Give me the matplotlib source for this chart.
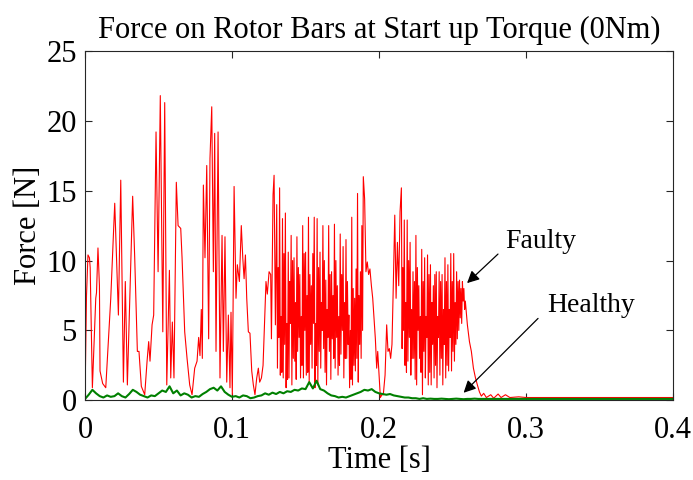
import numpy as np
import matplotlib.pyplot as plt

plt.rcParams['font.family'] = ['Liberation Serif', 'DejaVu Serif']

# faulty rotor bar force (time [s], force [N])
# part before the first dense burst
faulty_t1 = [0, 0.001, 0.002, 0.003, 0.0035, 0.005, 0.0073, 0.0078, 0.0088, 0.0098,
             0.0102, 0.012, 0.0141, 0.0175, 0.0202, 0.0227, 0.0243, 0.0261, 0.0274, 0.0288,
             0.0324, 0.0338, 0.0356, 0.0367, 0.0383,
             0.0406, 0.0422, 0.0433, 0.0442, 0.0456, 0.0467, 0.0483, 0.0497, 0.0512, 0.0529,
             0.0542, 0.0556, 0.0574, 0.0583, 0.0594, 0.0605, 0.0621, 0.0633, 0.0651, 0.066,
             0.0678, 0.0694, 0.0712, 0.0728, 0.0746, 0.0762, 0.0773, 0.0782, 0.0791, 0.0798,
             0.0805, 0.0816, 0.0828, 0.0841, 0.085, 0.0862, 0.0873, 0.0882, 0.0891, 0.0905,
             0.0918, 0.0932, 0.0941, 0.0952, 0.0964, 0.0975, 0.0986, 0.0993, 0.1002, 0.1014,
             0.1027, 0.1036, 0.105, 0.1063, 0.1073, 0.1082, 0.1091, 0.11, 0.1111, 0.1122,
             0.1134, 0.1145, 0.1156, 0.1168, 0.1179, 0.1188, 0.12, 0.1211, 0.1222, 0.1231,
             0.124, 0.1252, 0.1263, 0.1268, 0.1279, 0.1286, 0.1295]
faulty_f1 = [0.3, 7.5, 10.4, 10.2, 9.5, 0.9, 7.3, 7.7, 10.9, 8.2,
             2.1, 1.2, 0.9, 7.3, 14.1, 6.1, 15.75, 1.3, 8.5, 1.1,
             14.6, 10.2, 3.5, 3.5, 1.0,
             0.4, 2.8, 4.2, 2.8, 5.4, 6.1, 19.2, 9.2, 21.8, 4.9,
             21.3, 1.1, 9.3, 1.6, 5.6, 1.6, 15.6, 12.5, 12.3, 10.2,
             4.9, 3.0, 1.1, 0.4, 2.3, 2.8, 4.5, 3.2, 6.5, 3.0,
             15.4, 10.2, 16.8, 4.4, 17.3, 21.0, 9.2, 19.1, 3.5, 19.2,
             1.6, 11.8, 3.5, 11.7, 1.3, 6.1, 0.9, 6.3, 0.4, 15.3,
             7.3, 9.7, 8.5, 12.5, 10.2, 8.7, 10.4, 7.3, 4.9, 4.8,
             2.1, 1.1, 0.4, 1.6, 2.3, 1.3, 1.6, 2.5, 5.9, 8.5,
             7.6, 9.2, 9.0, 4.4, 14.7, 16.1, 5.4]

# first dense burst 0.1304 .. 0.1893 s, evenly sampled
faulty_f2 = [14.0, 2.3, 9.5, 4.5, 15.2, 1.8, 6.0, 2.0, 13.0, 1.6, 10.5, 4.0,
             13.4, 0.9, 5.5, 1.5, 10.6, 1.6, 8.5, 5.5, 11.8, 1.1, 10.0, 3.0,
             10.2, 2.8, 7.0, 1.5, 11.7, 3.5, 9.5, 4.5, 9.0, 1.6, 6.0, 2.5,
             12.5, 1.6, 10.5, 5.0, 10.6, 1.8, 7.5, 2.0, 13.1, 1.3, 9.0, 4.0,
             8.2, 2.3, 10.5, 5.5, 13.1, 0.9, 5.5, 2.5, 13.0, 1.1, 9.5, 3.5,
             10.6, 2.3, 7.0, 5.0, 12.5, 3.7, 10.0, 2.0, 8.6, 1.1, 6.5, 4.5,
             12.5, 3.5, 9.0, 1.5, 9.2, 4.4, 7.5, 3.0, 12.6, 2.3, 10.0, 4.5,
             8.2, 1.8, 6.0, 2.5, 11.9, 3.3, 9.0, 5.0, 11.0, 1.6, 7.0, 3.0,
             11.5, 3.0, 8.5, 4.0, 6.1, 0.9, 5.0, 1.5, 13.1, 1.1, 8.0, 2.5,
             7.3, 2.1, 9.4, 3.0, 14.8, 1.3, 7.5, 4.0, 9.2, 3.0, 12.5, 5.0,
             16.0]
faulty_t2 = np.linspace(0.1304, 0.1893, len(faulty_f2))

# between the bursts
faulty_t3 = [0.1902, 0.1911, 0.192, 0.1929, 0.1938, 0.1948, 0.1957, 0.1966,
             0.1975, 0.1984, 0.1991, 0.2, 0.2009, 0.202, 0.2029, 0.2041, 0.2052, 0.2061,
             0.207, 0.2079, 0.2088, 0.2097, 0.2107, 0.2116, 0.2125, 0.2134, 0.2143]
faulty_f3 = [14.4, 9.2, 9.9, 9.0, 9.4, 8.2, 7.3, 5.9,
             4.4, 2.3, 3.5, 1.8, 0.2, 0.4, 0.4, 1.8, 5.4, 3.5,
             3.7, 3.0, 4.0, 8.2, 13.25, 7.3, 11.3, 8.2, 13.5]

# second dense burst 0.2152 .. 0.2587 s, evenly sampled
faulty_f4 = [15.2, 3.7, 9.5, 5.0, 12.9, 2.5, 7.0, 2.0, 12.9, 2.8, 10.0, 4.5,
             11.3, 1.8, 6.5, 3.0, 9.2, 3.0, 8.5, 1.5, 11.8, 1.1, 9.5, 5.0,
             8.2, 3.0, 6.0, 2.0, 10.8, 0.4, 8.5, 3.5, 10.2, 1.6, 6.0, 4.5,
             10.4, 1.1, 9.0, 2.0, 9.7, 1.1, 7.0, 4.0, 8.2, 1.6, 9.0, 2.5,
             9.2, 0.9, 6.0, 4.5, 9.2, 1.8, 8.5, 3.0, 9.0, 1.1, 6.5, 4.0,
             10.2, 1.6, 8.5, 2.5, 9.7, 2.1, 6.5, 4.5, 10.5, 2.1, 8.5, 3.5,
             10.5, 2.8, 7.0, 4.0, 9.2, 4.4, 8.5, 5.0, 8.6, 5.9, 8.0, 5.5,
             8.5, 7.1, 8.0, 6.5, 7.1]
faulty_t4 = np.linspace(0.2152, 0.2587, len(faulty_f4))

# decay and flat tail
faulty_t5 = [0.2601, 0.2615, 0.2628, 0.2642, 0.2656, 0.2669, 0.2683, 0.2696, 0.2712, 0.273,
             0.276, 0.278, 0.281, 0.283, 0.286, 0.289, 0.295, 0.3, 0.32, 0.35, 0.38, 0.4]
faulty_f5 = [5.4, 4.2, 3.5, 2.3, 1.6, 1.1, 0.6, 0.3, 0.5, 0.2,
             0.4, 0.15, 0.45, 0.2, 0.4, 0.2, 0.25, 0.2, 0.2, 0.2, 0.2, 0.2]

faulty_t = np.concatenate([faulty_t1, faulty_t2, faulty_t3, faulty_t4, faulty_t5])
faulty_f = np.concatenate([faulty_f1, faulty_f2, faulty_f3, faulty_f4, faulty_f5])

# healthy rotor bar force, sampled every 2.5 ms up to 0.27 s, then flat
healthy_f = [0.1, 0.4, 0.75, 0.5, 0.3, 0.2, 0.35, 0.25, 0.3, 0.5,
             0.3, 0.2, 0.45, 0.75, 0.6, 0.4, 0.3, 0.2, 0.35, 0.3,
             0.5, 0.7, 0.6, 1.0, 0.5, 0.7, 0.35, 0.5, 0.4, 0.2,
             0.3, 0.25, 0.45, 0.6, 0.8, 0.9, 0.7, 1.0, 0.6, 0.4,
             0.25, 0.3, 0.2, 0.35, 0.3, 0.15, 0.2, 0.3, 0.35, 0.5,
             0.4, 0.55, 0.45, 0.6, 0.5, 0.65, 0.6, 0.75, 0.7, 0.85,
             0.8, 1.3, 0.85, 1.4, 0.8, 0.7, 0.5, 0.35, 0.3, 0.2,
             0.25, 0.2, 0.3, 0.4, 0.5, 0.6, 0.75, 0.7, 0.8, 0.6,
             0.5, 0.45, 0.4, 0.45, 0.35, 0.3, 0.25, 0.2, 0.2, 0.15,
             0.15, 0.1, 0.15, 0.1, 0.12, 0.1, 0.1, 0.12, 0.1, 0.08,
             0.1, 0.12, 0.1, 0.08, 0.1, 0.1, 0.12, 0.1, 0.1]
healthy_t = list(np.arange(len(healthy_f)) * 0.0025) + [0.3, 0.35, 0.4]
healthy_f = healthy_f + [0.1, 0.1, 0.1]

fig = plt.figure(figsize=(6.93, 4.80), dpi=100)
ax = fig.add_axes([0.1227, 0.166, 0.8485, 0.728])

ax.plot(faulty_t, faulty_f, color='#ff0000', lw=0.8)
ax.plot(healthy_t, healthy_f, color='#008000', lw=1.5)

ax.set_xlim(0, 0.4)
ax.set_ylim(0, 25)
ax.set_xticks([0, 0.1, 0.2, 0.3, 0.4])
ax.set_xticklabels(['0', '0.1', '0.2', '0.3', '0.4'])
ax.set_yticks([0, 5, 10, 15, 20, 25])
ax.tick_params(direction='in', top=True, right=True, labelsize=22,
               length=5, width=0.8, colors='#262626', labelcolor='black')
ax.tick_params(axis='x', pad=11)
ax.tick_params(axis='y', pad=6)
for s in ax.spines.values():
    s.set_color('#262626')
    s.set_linewidth(0.8)

ax.set_title('Force on Rotor Bars at Start up Torque (0Nm)', fontsize=22, pad=9)
ax.set_xlabel('Time [s]', fontsize=22, labelpad=1)
ax.set_ylabel('Force [N]', fontsize=22, labelpad=2)

arrow = dict(arrowstyle='-|>', color='black', lw=0.9, mutation_scale=18)
ax.annotate('', xy=(0.2585, 8.25), xytext=(0.2823, 10.6), arrowprops=arrow)
ax.annotate('', xy=(0.2562, 0.4), xytext=(0.3095, 6.0), arrowprops=arrow)
ax.text(0.2857, 10.9, 'Faulty', fontsize=20, ha='left', va='baseline')
ax.text(0.3143, 6.35, 'Healthy', fontsize=20, ha='left', va='baseline')

plt.savefig('out.png', dpi=100)
